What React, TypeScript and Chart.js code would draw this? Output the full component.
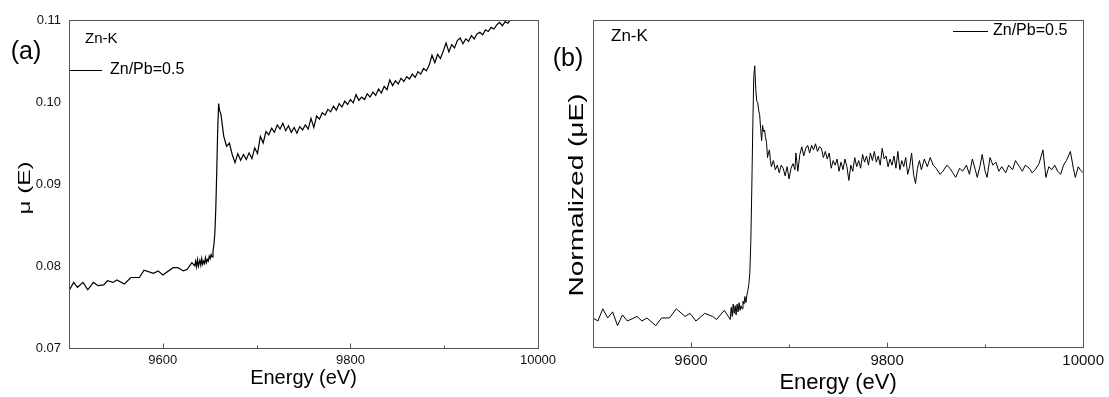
import React, { useEffect, useRef } from 'react';
import { Chart, registerables } from 'chart.js';

Chart.register(...registerables);

// ---------- Data: panel (a) raw absorption μ(E) ----------
const energyA = [
  9500, 9505, 9509, 9515, 9520, 9526, 9531, 9537, 9541, 9547, 9551, 9559, 9566, 9575, 9580, 9590,
  9595, 9600, 9611, 9616, 9622, 9626, 9631, 9634, 9635, 9636, 9637, 9638, 9639.5, 9640.5, 9641.5,
  9642.5, 9643.5, 9644.5, 9645.5, 9646.5, 9647.5, 9648.5, 9649.5, 9650.5, 9651.5, 9652.5, 9653.5,
  9654.5, 9655.5, 9656.5, 9657.5, 9658.5, 9659.5, 9660.5,
  9662, 9665, 9668, 9671, 9674, 9677, 9680, 9683, 9686, 9689, 9692, 9695, 9698, 9701, 9704, 9707,
  9710, 9713, 9716, 9719, 9722, 9725, 9728, 9731, 9734, 9737, 9740, 9743, 9746, 9749, 9752, 9755,
  9758, 9761, 9764, 9767, 9770, 9773, 9776, 9779, 9782, 9785, 9788, 9791, 9794, 9797, 9800, 9803,
  9806, 9809, 9812, 9815, 9818, 9821, 9824, 9827, 9830, 9833, 9836, 9839, 9842, 9845, 9848, 9851,
  9854, 9857, 9860, 9863, 9866, 9869, 9872, 9875, 9878, 9881, 9884, 9887, 9890, 9893, 9896, 9899,
  9902, 9905, 9908, 9911, 9914, 9917, 9920, 9923, 9926, 9929, 9932, 9935, 9938, 9941, 9944, 9947,
  9950, 9953, 9956, 9959, 9962, 9965, 9968, 9971, 9974, 9977, 9980, 9983, 9986, 9989, 9992, 9995,
  9998,
];
const muA = [
  0.0770, 0.0780, 0.0774, 0.0780, 0.0771, 0.0780, 0.0776, 0.0777, 0.0782, 0.0780, 0.0783, 0.0778,
  0.0786, 0.0786, 0.0795, 0.0791, 0.0794, 0.0789, 0.0798, 0.0798, 0.0794, 0.0796, 0.0804, 0.0800,
  0.0806, 0.0799, 0.0808, 0.0800, 0.0807, 0.0801, 0.0809, 0.0802, 0.0806, 0.0803, 0.0810, 0.0804,
  0.0808, 0.0806, 0.0812, 0.0809, 0.0814, 0.0811, 0.0818,
  0.0826, 0.0840, 0.0870, 0.0915, 0.0965, 0.0998, 0.0990,
  0.0985, 0.0958, 0.0946, 0.0950, 0.0936, 0.0926, 0.0937, 0.0929, 0.0936, 0.0930, 0.0938, 0.0931,
  0.0944, 0.0937, 0.0958, 0.0950, 0.0964, 0.0960, 0.0968, 0.0963, 0.0972, 0.0967, 0.0974, 0.0965,
  0.0971, 0.0963, 0.0969, 0.0962, 0.0970, 0.0966, 0.0972, 0.0967, 0.0980, 0.0969, 0.0983, 0.0979,
  0.0987, 0.0984, 0.0991, 0.0988, 0.0995, 0.0990, 0.0998, 0.0994, 0.1001, 0.0997, 0.1003, 0.0999,
  0.1009, 0.1002, 0.1006, 0.1003, 0.1010, 0.1006, 0.1012, 0.1008, 0.1016, 0.1011, 0.1019, 0.1015,
  0.1027, 0.1020, 0.1026, 0.1022, 0.1029, 0.1025, 0.1031, 0.1028, 0.1034, 0.1030, 0.1037, 0.1034,
  0.1041, 0.1038, 0.1045, 0.1057, 0.1048, 0.1058, 0.1053, 0.1062, 0.1072, 0.1061, 0.1070, 0.1066,
  0.1075, 0.1078, 0.1071, 0.1077, 0.1074, 0.1081, 0.1077, 0.1083, 0.1085, 0.1082, 0.1088, 0.1086,
  0.1091, 0.1089, 0.1094, 0.1097, 0.1093, 0.1098, 0.1096, 0.1101, 0.1104, 0.1102, 0.1107, 0.1105,
  0.1110, 0.1108, 0.1113, 0.1111, 0.1115,
];

// ---------- Data: panel (b) normalized μ(E) ----------
const energyB = [
  9500, 9505, 9510, 9515, 9520, 9525, 9530, 9535, 9545, 9550, 9555, 9564, 9570, 9578, 9585, 9594,
  9599, 9605, 9614, 9622, 9626, 9634, 9640, 9641, 9642, 9643, 9644, 9645, 9646, 9647, 9648, 9649,
  9650, 9651, 9652, 9653, 9654, 9655, 9656, 9657, 9658, 9659, 9660, 9661, 9662, 9663, 9664, 9665,
  9666, 9667, 9668, 9669, 9670, 9671, 9672, 9673, 9674, 9675, 9676, 9677, 9678, 9679, 9680, 9681,
  9682, 9684, 9686, 9688, 9690, 9692, 9694, 9696, 9698, 9700, 9702, 9704, 9706, 9707, 9709, 9711,
  9713, 9715, 9717, 9719, 9721, 9723, 9725, 9727, 9729, 9731, 9733, 9735, 9737, 9739, 9741, 9743,
  9745, 9747, 9749, 9751, 9753, 9755, 9757, 9759, 9761, 9763, 9765, 9767, 9769, 9771, 9773, 9775,
  9777, 9779, 9781, 9783, 9785, 9787, 9789, 9791, 9793, 9795, 9797, 9799, 9801, 9803, 9805, 9807,
  9809, 9811, 9813, 9815, 9817, 9819, 9821, 9823, 9825, 9827, 9829, 9831, 9833, 9835, 9838, 9841,
  9844, 9847, 9850, 9854, 9857, 9861, 9864, 9867, 9870, 9874, 9877, 9881, 9884, 9887, 9890, 9892,
  9895, 9897, 9900, 9902, 9905, 9908, 9911, 9914, 9917, 9921, 9924, 9928, 9931, 9934, 9938, 9941,
  9945, 9948, 9951, 9955, 9959, 9962, 9965, 9968, 9971, 9974, 9977, 9980, 9983, 9987, 9990, 9992,
  9995, 9997, 10000,
];
const normB = [
  0.00, -0.02, 0.06, 0.00, 0.04, -0.05, 0.02, -0.02, 0.01, -0.02, 0.00, -0.05, 0.00, 0.00, 0.06, 0.01,
  0.03, -0.02, 0.03, 0.01, -0.01, 0.05, -0.01, 0.07, 0.01, 0.09, 0.03, 0.08, 0.02, 0.09, 0.04, 0.10,
  0.05, 0.08, 0.06, 0.11, 0.09, 0.14, 0.10, 0.15, 0.18, 0.22, 0.30, 0.50, 0.85, 1.25, 1.58, 1.65,
  1.50, 1.42, 1.41, 1.36, 1.33, 1.24, 1.16, 1.26, 1.22, 1.23, 1.18, 1.15, 1.05, 1.08, 1.10, 1.03,
  0.99, 1.03, 0.97, 1.00, 0.95, 1.00, 0.98, 0.93, 0.99, 0.91, 0.98, 1.01, 0.97, 1.08, 0.96, 1.07,
  1.12, 1.06, 1.11, 1.13, 1.08, 1.13, 1.10, 1.14, 1.09, 1.12, 1.11, 1.05, 1.09, 1.04, 1.08, 0.98,
  1.03, 1.00, 1.04, 0.96, 1.02, 0.97, 1.04, 0.99, 0.90, 1.00, 0.96, 1.05, 0.99, 1.03, 0.98, 1.07,
  1.02, 1.06, 1.00, 1.08, 1.03, 1.09, 1.02, 1.06, 1.00, 1.11, 1.04, 1.06, 0.99, 1.04, 1.00, 1.06,
  0.98, 1.09, 0.97, 1.03, 0.99, 1.05, 0.94, 0.99, 1.08, 0.94, 0.88, 0.98, 1.03, 0.97, 1.04, 0.99,
  1.05, 1.00, 0.98, 0.94, 0.96, 1.00, 0.98, 0.95, 0.92, 0.98, 0.96, 1.00, 0.94, 1.04, 0.97, 0.92,
  1.00, 1.07, 0.96, 0.92, 1.05, 1.00, 1.02, 0.96, 0.99, 0.95, 1.00, 0.97, 1.03, 1.00, 0.96, 1.00,
  0.98, 0.95, 0.97, 1.01, 1.10, 0.92, 0.99, 0.97, 1.00, 0.96, 0.94, 1.00, 1.03, 1.09, 0.98, 0.92,
  0.99, 0.97, 0.95,
];

// ---------- Axis tick values and labels ----------
const xTickLabels = [9600, 9800, 10000];
const xMajorMarks = [9600, 9800];
const xMinorMarks = [9700, 9900];
const yTicksA = [0.07, 0.08, 0.09, 0.10, 0.11];
const seriesLabel = 'Zn/Pb=0.5';
const edgeLabel = 'Zn-K';
const xTitle = 'Energy (eV)';
const yTitleA = 'μ (E)';
const yTitleB = 'Normalized (μE)';

const FONT = '"Liberation Sans", Arial, Helvetica, sans-serif';
const W = 1109;
const H = 397;

type Deco = {
  tag: string; tagX: number; tagY: number;
  edgeX: number; edgeY: number; edgeSize: number;
  legX0: number; legX1: number; legY: number; legTextX: number;
  yTitle: string; yTitleX: number; yTitleY: number; yTitleSize: number; yTitleLen: number;
};

function drawStretched(ctx: CanvasRenderingContext2D, text: string, x: number, y: number, size: number, len: number) {
  ctx.save();
  ctx.font = `${size}px ${FONT}`;
  const w = ctx.measureText(text).width;
  ctx.translate(x, y);
  ctx.rotate(-Math.PI / 2);
  ctx.scale(len / w, 1);
  ctx.textAlign = 'center';
  ctx.textBaseline = 'middle';
  ctx.fillStyle = '#000';
  ctx.fillText(text, 0, 0);
  ctx.restore();
}

function decoPlugin(d: Deco) {
  return {
    id: 'panelDeco',
    afterDatasetsDraw(chart: any) {
      const { ctx, chartArea: ca, scales } = chart;
      ctx.save();
      // frame
      ctx.strokeStyle = '#555';
      ctx.lineWidth = 1;
      const l = Math.round(ca.left) + 0.5;
      const t = Math.round(ca.top) + 0.5;
      const r = Math.round(ca.right) + 0.5;
      const b = Math.round(ca.bottom) + 0.5;
      ctx.strokeRect(l, t, r - l, b - t);
      // inward x tick marks
      const xs = scales.x;
      const mark = (v: number, len: number) => {
        const px = Math.round(xs.getPixelForValue(v)) + 0.5;
        ctx.beginPath();
        ctx.moveTo(px, b);
        ctx.lineTo(px, b - len);
        ctx.stroke();
      };
      xMajorMarks.forEach((v) => mark(v, 5));
      xMinorMarks.forEach((v) => mark(v, 3));
      // panel tag
      ctx.fillStyle = '#000';
      ctx.font = `25px ${FONT}`;
      ctx.textAlign = 'center';
      ctx.textBaseline = 'middle';
      ctx.fillText(d.tag, d.tagX, d.tagY);
      // edge label
      ctx.font = `${d.edgeSize}px ${FONT}`;
      ctx.textAlign = 'left';
      ctx.fillText(edgeLabel, d.edgeX, d.edgeY);
      // legend
      ctx.strokeStyle = '#000';
      ctx.beginPath();
      ctx.moveTo(d.legX0, d.legY + 0.5);
      ctx.lineTo(d.legX1, d.legY + 0.5);
      ctx.stroke();
      ctx.font = `16px ${FONT}`;
      ctx.fillText(seriesLabel, d.legTextX, d.legY);
      ctx.restore();
      drawStretched(ctx, d.yTitle, d.yTitleX, d.yTitleY, d.yTitleSize, d.yTitleLen);
    },
  };
}

function makeChart(canvas: HTMLCanvasElement, panel: 'a' | 'b') {
  const isA = panel === 'a';
  const xs = isA ? energyA : energyB;
  const ys = isA ? muA : normB;
  const points = xs.map((e, i) => ({ x: e, y: ys[i] }));
  const tickSize = isA ? 13 : 15;
  const deco: Deco = isA
    ? { tag: '(a)', tagX: 26, tagY: 52, edgeX: 85, edgeY: 39, edgeSize: 15,
        legX0: 70, legX1: 102, legY: 70, legTextX: 110,
        yTitle: yTitleA, yTitleX: 25, yTitleY: 188, yTitleSize: 17, yTitleLen: 53 }
    : { tag: '(b)', tagX: 568, tagY: 59, edgeX: 611, edgeY: 36, edgeSize: 17,
        legX0: 953, legX1: 988, legY: 31, legTextX: 993,
        yTitle: yTitleB, yTitleX: 577, yTitleY: 195, yTitleSize: 21, yTitleLen: 203 };

  return new Chart(canvas, {
    type: 'line',
    data: {
      datasets: [
        {
          label: seriesLabel,
          data: points,
          borderColor: '#000',
          borderWidth: isA ? 1.2 : 1,
          pointRadius: 0,
          tension: 0,
          fill: false,
        },
      ],
    },
    options: {
      responsive: false,
      animation: false,
      events: [],
      layout: {
        padding: isA
          ? { left: 0, top: 20, right: W - 538, bottom: 0 }
          : { left: 593 - 38, top: 20, right: W - 1084, bottom: 0 },
      },
      plugins: {
        legend: { display: false },
        tooltip: { enabled: false },
        title: { display: false },
      },
      scales: {
        x: {
          type: 'linear',
          min: 9500,
          max: 10000,
          grid: { display: false, drawTicks: false },
          border: { display: false },
          afterBuildTicks: (s: any) => {
            s.ticks = xTickLabels.map((v) => ({ value: v }));
          },
          afterFit: (s: any) => {
            s.height = isA ? H - 348 : H - 347;
          },
          ticks: {
            padding: 5,
            color: '#111',
            maxRotation: 0,
            autoSkip: false,
            font: { family: FONT, size: tickSize },
            callback: (v: any) => String(v),
          },
          title: {
            display: true,
            text: xTitle,
            color: '#000',
            font: { family: FONT, size: isA ? 20 : 22 },
            padding: { top: 0, bottom: isA ? 7 : 1 },
          },
        },
        y: {
          type: 'linear',
          min: isA ? 0.07 : -0.19,
          max: isA ? 0.11 : 1.95,
          grid: { display: false, drawTicks: false },
          border: { display: false },
          afterBuildTicks: (s: any) => {
            if (isA) s.ticks = yTicksA.map((v) => ({ value: v }));
          },
          afterFit: (s: any) => {
            s.width = isA ? 69 : 38;
          },
          ticks: {
            display: isA,
            padding: 8,
            color: '#111',
            font: { family: FONT, size: tickSize },
            callback: (v: any) => Number(v).toFixed(2),
          },
        },
      },
    },
    plugins: [decoPlugin(deco)],
  } as any);
}

export default function App() {
  const refA = useRef<HTMLCanvasElement>(null);
  const refB = useRef<HTMLCanvasElement>(null);

  useEffect(() => {
    const ca = makeChart(refA.current!, 'a');
    const cb = makeChart(refB.current!, 'b');
    return () => {
      ca.destroy();
      cb.destroy();
    };
  }, []);

  const style: React.CSSProperties = { position: 'absolute', left: 0, top: 0, width: W, height: H };
  return (
    <div style={{ position: 'absolute', left: 0, top: 0, width: W, height: H, background: '#fff' }}>
      <canvas ref={refA} width={W} height={H} style={style} />
      <canvas ref={refB} width={W} height={H} style={style} />
    </div>
  );
}
